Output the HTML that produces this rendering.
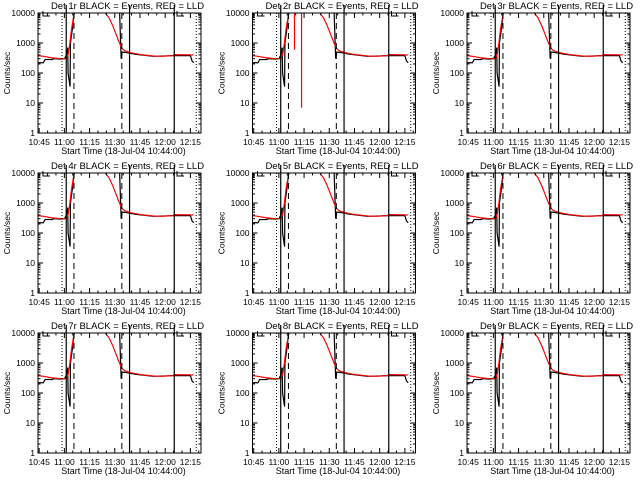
<!DOCTYPE html>
<html><head><meta charset="utf-8"><style>
body{margin:0;background:#fff;}
svg{display:block;font-family:"Liberation Sans",sans-serif;}
</style></head><body>
<svg id="c" width="640" height="480" xmlns="http://www.w3.org/2000/svg"></svg>
<script>
// time in minutes since 10:45
const redTimes=[-0.7,2.5,7.7,13,16.2,17.2,18.3,19.3,20.4,21.4,38.3,39.4,41.5,43.6,45.7,47.8,49.4,51,54.1,59.4,67.8,73.1,79.4,80.5,92];
const redValues=[380,360,320,300,300,400,1000,3000,7000,14000,14000,10000,7000,4000,2000,1000,650,550,480,420,370,360,380,410,400];
const blackTimes=[-0.7,2.5,3.5,7.7,8.8,13,15.1,16.2,17.0,17.2,18.4,18.6,19.8,20.6,21.4,47.8,48.8,49.4,52,57.3,67.8,75.2,79.4,83.6,90,91,92];
const blackValues=[220,220,280,280,300,290,300,400,700,100,35,1000,3000,8000,14000,14000,300,500,480,420,360,370,380,380,380,250,220];
const spikeTimes=[24.3,28.5];      // det 2 red dropouts
const spikeValues=[600,7];
const vlineTimes=[13.6,16.1,20.7,49.2,53.8,80.4,93.5];
const vlineStyles=['dot','solid','dash','dash','solid','solid','dot'];
const xTickLabels=['10:45','11:00','11:15','11:30','11:45','12:00','12:15'];
const xTickTimes=[0,15,30,45,60,75,90];
const yTickValues=[1,10,100,1000,10000];
const yTickLabels=['1','10','100','1000','10000'];
const detectors=['1r','2r','3r','4r','5r','6r','7r','8r','9r'];

const svg=document.getElementById('c');
const NS='http://www.w3.org/2000/svg';
function mk(tag,attrs,parent){const e=document.createElementNS(NS,tag);for(const k in attrs)e.setAttribute(k,attrs[k]);parent.appendChild(e);return e;}
const colL=[38,252.5,467], rowT=[13,173,333], W=163, H=120;

detectors.forEach((det,i)=>{
  const L=colL[i%3], T=rowT[Math.floor(i/3)], B=T+H, R=L+W;
  const xs=t=>L+(t+0.7)*1.68;
  const ys=v=>B-(Math.log10(Math.max(1,Math.min(v,20000))))*H/4;
  const g=mk('g',{},svg);
  
  
  const clipId='cl'+i;
  const cp=mk('clipPath',{id:clipId},g);mk('rect',{x:L,y:T,width:W,height:H},cp);
  const dg=mk('g',{'clip-path':'url(#'+clipId+')'},g);
  const pb=mk('polyline',{points:blackTimes.map((t,k)=>xs(t)+','+ys(blackValues[k])).join(' '),fill:'none',stroke:'#000','stroke-width':1.2},dg);
  
  
  const pr=mk('polyline',{points:redTimes.map((t,k)=>xs(t)+','+ys(redValues[k])).join(' '),fill:'none',stroke:'#f00','stroke-width':1.2},dg);
  
  
  if(det==='2r'){spikeTimes.forEach((t,k)=>{const s=mk('line',{x1:xs(t),x2:xs(t),y1:T,y2:ys(spikeValues[k]),stroke:'#f00','stroke-width':1.2},dg);
    
    });}
  [[43,50],[177,184]].forEach(([a,b])=>{mk('polyline',{points:(L+a-38)+','+(T-2)+' '+(L+a-38)+','+(T+3)+' '+(L+b-38)+','+(T+3),fill:'none',stroke:'#000'},g);});
  vlineTimes.forEach((t,k)=>{const st=vlineStyles[k];
    const ln=mk('line',{x1:xs(t),x2:xs(t),y1:(st==='solid'?T-8:T),y2:B,stroke:'#000','stroke-width':st==='solid'?1.2:1,'stroke-dasharray':st==='dash'?'6,4':(st==='dot'?'1,2':'none')},g);
    
    });
  mk('rect',{x:L,y:T,width:W,height:H,fill:'none',stroke:'#000','stroke-width':1},g);
  xTickTimes.forEach((t,k)=>{const x=xs(t);if(x>R+1)return;
    mk('line',{x1:x,x2:x,y1:B,y2:B-5,stroke:'#000'},g);mk('line',{x1:x,x2:x,y1:T,y2:T+5,stroke:'#000'},g);
    for(let m=5;m<15;m+=5){const xm=xs(t+m);if(xm<R){mk('line',{x1:xm,x2:xm,y1:B,y2:B-2.5,stroke:'#000'},g);mk('line',{x1:xm,x2:xm,y1:T,y2:T+2.5,stroke:'#000'},g);}}
    const tx=mk('text',{x:x,y:B+12,'font-size':8.5,'text-anchor':'middle'},g);tx.textContent=xTickLabels[k];
    
    });
  yTickValues.forEach((v,k)=>{const y=ys(v);
    mk('line',{x1:L,x2:L+5,y1:y,y2:y,stroke:'#000'},g);mk('line',{x1:R,x2:R-5,y1:y,y2:y,stroke:'#000'},g);
    if(k<4)for(let m=2;m<10;m++){const ym=ys(v*m);mk('line',{x1:L,x2:L+2.5,y1:ym,y2:ym,stroke:'#000'},g);mk('line',{x1:R,x2:R-2.5,y1:ym,y2:ym,stroke:'#000'},g);}
    const ty=mk('text',{x:L-3,y:y+3,'font-size':8.5,'text-anchor':'end'},g);ty.textContent=yTickLabels[k];
    
    });
  const yt=mk('text',{x:0,y:0,'font-size':8.5,'text-anchor':'middle',transform:'translate('+(L-28)+','+(T+H/2)+') rotate(-90)'},g);yt.textContent='Counts/sec';
  
  
  const xt=mk('text',{x:L+W/2+4,y:B+21,'font-size':9,'text-anchor':'middle'},g);xt.textContent='Start Time (18-Jul-04 10:44:00)';
  
  
  const ti=mk('text',{x:L+W/2+8,y:T-4,'font-size':9.5,'text-anchor':'middle'},g);ti.textContent='Det '+det+' BLACK = Events, RED = LLD';
  
  
});
</script>
</body></html>
